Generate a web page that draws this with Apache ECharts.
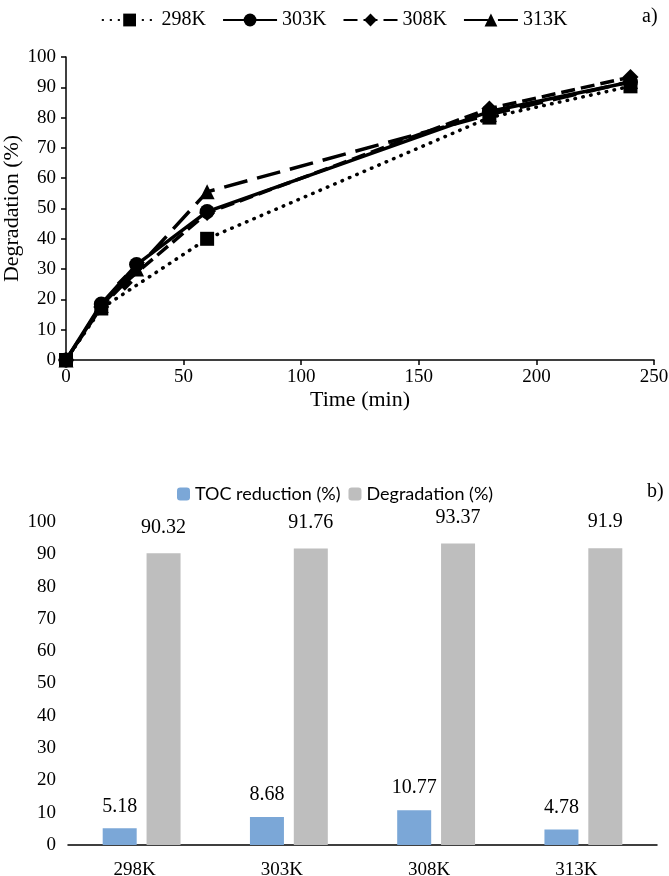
<!DOCTYPE html>
<html><head><meta charset="utf-8">
<script src="https://cdn.jsdelivr.net/npm/echarts@6/dist/echarts.min.js"></script>
<style>html,body{margin:0;padding:0;background:#fff}#c{width:669px;height:876px}</style>
</head><body><div id="c"></div>
<script>
// Panel a) degradation vs time
const times298 = [0, 15, 60, 180, 240];
const deg298 = [0, 17, 40, 80, 90.32];
const times303 = [0, 15, 30, 60, 180, 240];
const deg303 = [0, 18.5, 31.5, 49, 82, 91.76];
const times308 = [0, 15, 25, 60, 180, 240];
const deg308 = [0, 17.5, 25.5, 48.5, 83, 93.37];
const times313 = [0, 15, 30, 60, 180, 240];
const deg313 = [0, 18, 30, 55.5, 81, 91.9];
const seriesNames = ['298K', '303K', '308K', '313K'];

// Panel b)
const categories = ['298K', '303K', '308K', '313K'];
const tocReduction = [5.18, 8.68, 10.77, 4.78];
const degradation = [90.32, 91.76, 93.37, 91.9];
const barNames = ['TOC reduction (%)', 'Degradation (%)'];

const serif = "'Liberation Serif', 'Times New Roman', serif";
const pair = (xs, ys) => xs.map((x, i) => [x, ys[i]]);
const lineDefs = [
  {name: seriesNames[0], data: pair(times298, deg298), type: [0.5, 7.5], cap: 'round', symbol: 'rect', size: 14},
  {name: seriesNames[1], data: pair(times303, deg303), type: 'solid', cap: 'butt', symbol: 'circle', size: 15},
  {name: seriesNames[2], data: pair(times308, deg308), type: [14, 6], cap: 'butt', symbol: 'diamond', size: 16},
  {name: seriesNames[3], data: pair(times313, deg313), type: [24, 10], cap: 'butt', symbol: 'triangle', size: 15}
];

const chart = echarts.init(document.getElementById('c'), null, {renderer: 'canvas'});
const tickLabel = {color: '#000', fontFamily: serif, fontSize: 19};
const axisCommon = {
  axisLine: {lineStyle: {color: '#000', width: 1.5}},
  axisTick: {lineStyle: {color: '#000', width: 1.5}, length: 5},
  splitLine: {show: false}
};
chart.setOption({
  animation: false,
  title: [
    {text: 'a)', left: 637, top: 2, textStyle: {fontFamily: serif, fontSize: 20, fontWeight: 'normal', color: '#000'}},
    {text: 'b)', left: 642, top: 477, textStyle: {fontFamily: serif, fontSize: 20, fontWeight: 'normal', color: '#000'}}
  ],
  legend: [
    {data: seriesNames, top: 5, left: 'center', itemWidth: 54, itemHeight: 16, itemGap: 16,
     textStyle: {fontFamily: serif, fontSize: 20, color: '#000'}},
    {data: barNames, top: 480, left: 172, itemWidth: 13, itemHeight: 13, itemGap: 8,
     textStyle: {fontFamily: 'Lato', fontSize: 18, color: '#000'}}
  ],
  grid: [
    {left: 66, right: 15, top: 57, bottom: 516, containLabel: false, outerBoundsMode: 'none'},
    {left: 68, right: 12, top: 522, bottom: 31, containLabel: false, outerBoundsMode: 'none'}
  ],
  xAxis: [
    Object.assign({}, axisCommon, {type: 'value', gridIndex: 0, min: 0, max: 250, interval: 50,
      name: 'Time (min)', nameLocation: 'middle', nameGap: 29, nameMoveOverlap: false,
      nameTextStyle: {fontFamily: serif, fontSize: 22, color: '#000'},
      axisLabel: Object.assign({margin: 8}, tickLabel)}),
    Object.assign({}, axisCommon, {type: 'category', gridIndex: 1, data: categories,
      axisTick: {show: false},
      axisLabel: Object.assign({margin: 16, padding: [0, 14, 0, 0]}, tickLabel)})
  ],
  yAxis: [
    Object.assign({}, axisCommon, {type: 'value', gridIndex: 0, min: 0, max: 100, interval: 10,
      name: 'Degradation (%)', nameLocation: 'middle', nameGap: 43, nameMoveOverlap: false,
      nameTextStyle: {fontFamily: serif, fontSize: 22, color: '#000'},
      axisLabel: Object.assign({margin: 10}, tickLabel)}),
    Object.assign({}, axisCommon, {type: 'value', gridIndex: 1, min: 0, max: 100, interval: 10,
      axisLabel: Object.assign({margin: 12}, tickLabel)})
  ],
  series: lineDefs.map(d => ({
    name: d.name, type: 'line', xAxisIndex: 0, yAxisIndex: 0, data: d.data,
    symbol: d.symbol, symbolSize: d.size,
    lineStyle: {color: '#000', width: 3.5, type: d.type, cap: d.cap},
    itemStyle: {color: '#000'}
  })).concat([
    {name: barNames[0], type: 'bar', xAxisIndex: 1, yAxisIndex: 1, data: tocReduction,
     barWidth: 34, barGap: '29%', itemStyle: {color: '#7BA7D7'},
     label: {show: true, position: 'top', distance: 12, color: '#000', fontFamily: serif, fontSize: 20}},
    {name: barNames[1], type: 'bar', xAxisIndex: 1, yAxisIndex: 1, data: degradation,
     barWidth: 34, itemStyle: {color: '#BEBEBE'},
     label: {show: true, position: 'top', distance: 16, color: '#000', fontFamily: serif, fontSize: 20}}
  ])
});
</script></body></html>
